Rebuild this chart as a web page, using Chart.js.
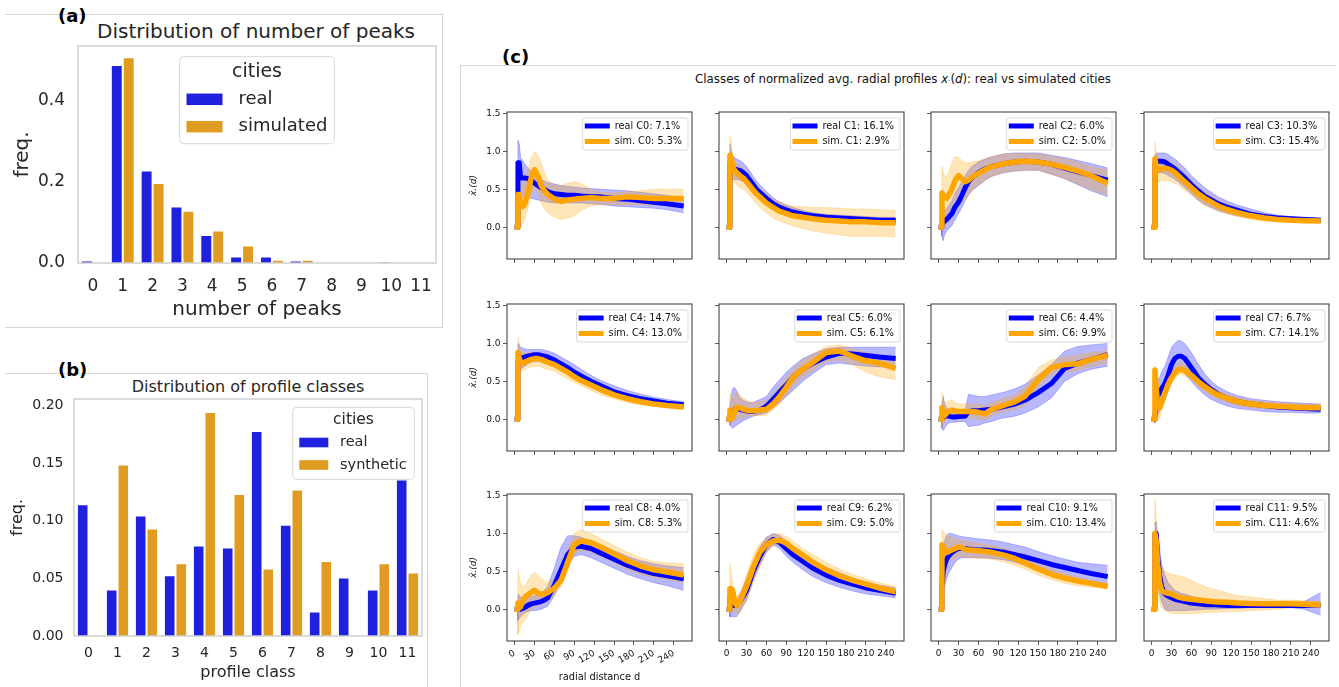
<!DOCTYPE html>
<html><head><meta charset="utf-8">
<script src="https://cdn.jsdelivr.net/npm/chart.js@4.4.0/dist/chart.umd.min.js"></script>
<style>
body{margin:0;width:1339px;height:687px;background:#fff;position:relative;overflow:hidden;font-family:'DejaVu Sans',sans-serif;}
.abs{position:absolute;}
.lbl{position:absolute;font-weight:bold;font-size:18px;line-height:18px;color:#000;}
.ttl{position:absolute;text-align:center;white-space:nowrap;}
canvas{display:block;}
</style></head><body>
<div class="abs" style="left:5px;top:14px;width:437px;height:312px;border:1px solid #d6d6d6;border-left:none;"></div>
<div class="abs" style="left:5px;top:373px;width:422px;height:320px;border-top:1px solid #d6d6d6;border-right:1px solid #d6d6d6;"></div>
<div class="abs" style="left:460px;top:65px;width:875px;height:630px;border-top:1px solid #d6d6d6;border-left:1px solid #d6d6d6;"></div>
<div class="lbl" style="left:58px;top:7px;">(a)</div>
<div class="lbl" style="left:58px;top:361px;">(b)</div>
<div class="lbl" style="left:502px;top:48px;">(c)</div>
<div class="ttl" style="left:56px;top:21px;width:400px;font-size:20px;line-height:20px;color:#262626;">Distribution of number of peaks</div>
<div class="ttl" style="left:48px;top:379px;width:400px;font-size:16px;line-height:16px;color:#262626;">Distribution of profile classes</div>
<div class="ttl" style="left:553px;top:72px;width:700px;font-size:11.8px;line-height:14px;color:#111;">Classes of normalized avg. radial profiles <i>x</i><span style="font-size:7px;">·</span>(<i>d</i>): real vs simulated cities</div>
<div id="root"></div>
<script>
// ---------- panel (a): number of peaks ----------
const peakCats = ['0','1','2','3','4','5','6','7','8','9','10','11'];
const peaksReal = [0.006,0.488,0.228,0.139,0.069,0.016,0.016,0.006,0,0,0.003,0];
const peaksSim  = [0,0.507,0.197,0.129,0.080,0.043,0.008,0.008,0,0,0,0];
const peakYTicks = [0,0.2,0.4];
// ---------- panel (b): profile classes ----------
const classCats = ['0','1','2','3','4','5','6','7','8','9','10','11'];
const classReal = [0.1145,0.0403,0.1046,0.0528,0.0786,0.0768,0.178,0.0965,0.0212,0.0507,0.0403,0.136];
const classSyn  = [0,0.149,0.0933,0.0632,0.1945,0.1232,0.0586,0.1272,0.0652,0,0.0632,0.0551];
const classYTicks = [0,0.05,0.10,0.15,0.20];
// ---------- panel (c): radial profiles ----------
const radialD = [0,4,5,7,9,12,15,20,25,30,35,40,45,50,60,70,80,90,100,115,130,150,170,190,210,230,255];
const profXTicks = [0,30,60,90,120,150,180,210,240];
const profYTicks = [0,0.5,1.0,1.5];
const realPct = ['7.1','16.1','6.0','10.3','14.7','6.0','4.4','6.7','4.0','6.2','9.1','9.5'];
const simPct  = ['5.3','2.9','5.0','15.4','13.0','6.1','9.9','14.1','5.3','5.0','13.4','4.6'];

const realC0   = [0,0,0.85,0.85,0.65,0.65,0.65,0.64,0.62,0.58,0.55,0.52,0.5,0.47,0.44,0.43,0.42,0.42,0.41,0.40,0.40,0.38,0.37,0.35,0.33,0.31,0.28];
const realC0Lo = [0,0,0.45,0.45,0.42,0.4,0.4,0.4,0.38,0.37,0.36,0.35,0.34,0.33,0.32,0.32,0.32,0.32,0.32,0.31,0.30,0.28,0.27,0.26,0.25,0.23,0.19];
const realC0Hi = [0,0,1.15,1.1,0.92,0.88,0.84,0.78,0.74,0.7,0.66,0.63,0.61,0.59,0.57,0.55,0.54,0.53,0.52,0.51,0.5,0.49,0.48,0.46,0.44,0.42,0.38];
const simC0    = [0,0,0.43,0.43,0.28,0.27,0.3,0.45,0.65,0.76,0.68,0.55,0.48,0.43,0.37,0.34,0.36,0.37,0.38,0.39,0.38,0.38,0.4,0.39,0.38,0.38,0.38];
const simC0Lo  = [0,0,0.1,0.05,0.0,0.05,0.1,0.25,0.42,0.55,0.45,0.32,0.24,0.19,0.13,0.1,0.12,0.15,0.22,0.28,0.3,0.3,0.3,0.3,0.3,0.29,0.27];
const simC0Hi  = [0,0,0.7,0.7,0.6,0.55,0.6,0.75,0.92,1.0,0.95,0.85,0.72,0.62,0.56,0.55,0.58,0.6,0.58,0.5,0.46,0.45,0.47,0.48,0.5,0.5,0.5];

const realC1   = [0,0,0.85,0.8,0.78,0.77,0.76,0.75,0.72,0.68,0.62,0.56,0.5,0.46,0.38,0.31,0.26,0.23,0.2,0.17,0.15,0.13,0.12,0.11,0.1,0.09,0.09];
const realC1Lo = [0,0,0.55,0.6,0.62,0.63,0.63,0.62,0.6,0.56,0.5,0.45,0.4,0.36,0.29,0.23,0.19,0.16,0.14,0.12,0.1,0.08,0.07,0.06,0.06,0.05,0.05];
const realC1Hi = [0,0,1.1,1.0,0.95,0.92,0.9,0.88,0.85,0.8,0.74,0.67,0.61,0.56,0.47,0.39,0.33,0.29,0.26,0.22,0.19,0.17,0.16,0.15,0.14,0.13,0.13];
const simC1    = [0,0,0.95,0.9,0.8,0.75,0.72,0.68,0.65,0.6,0.55,0.49,0.44,0.4,0.32,0.26,0.21,0.18,0.15,0.13,0.11,0.09,0.08,0.07,0.07,0.06,0.06];
const simC1Lo  = [0,0,0.7,0.7,0.65,0.6,0.56,0.52,0.5,0.46,0.41,0.36,0.31,0.26,0.19,0.12,0.08,0.05,0.02,-0.02,-0.05,-0.08,-0.1,-0.12,-0.12,-0.12,-0.13];
const simC1Hi  = [0,0,1.2,1.1,0.95,0.88,0.84,0.8,0.77,0.72,0.66,0.6,0.55,0.5,0.43,0.37,0.33,0.3,0.28,0.27,0.26,0.26,0.25,0.24,0.24,0.23,0.22];

const realC2   = [0,0,0.03,0.06,0.08,0.1,0.13,0.18,0.27,0.33,0.42,0.52,0.6,0.65,0.72,0.77,0.8,0.82,0.84,0.86,0.87,0.86,0.83,0.78,0.73,0.68,0.62];
const realC2Lo = [0,0,-0.12,-0.18,-0.1,-0.05,-0.02,0.02,0.1,0.18,0.26,0.35,0.42,0.48,0.55,0.62,0.67,0.7,0.72,0.74,0.75,0.75,0.7,0.64,0.56,0.48,0.4];
const realC2Hi = [0,0,0.15,0.2,0.22,0.25,0.28,0.35,0.45,0.52,0.6,0.68,0.75,0.8,0.86,0.9,0.93,0.95,0.97,0.98,0.98,0.98,0.95,0.92,0.88,0.84,0.78];
const simC2    = [0,0,0.45,0.42,0.4,0.38,0.42,0.5,0.62,0.68,0.64,0.6,0.62,0.66,0.71,0.76,0.8,0.82,0.84,0.86,0.87,0.86,0.83,0.79,0.74,0.68,0.58];
const simC2Lo  = [0,0,0.1,0.12,0.12,0.12,0.15,0.2,0.28,0.32,0.34,0.36,0.42,0.48,0.55,0.62,0.67,0.7,0.73,0.74,0.75,0.75,0.7,0.64,0.57,0.5,0.42];
const simC2Hi  = [0,0,0.8,0.72,0.68,0.66,0.72,0.85,0.93,0.92,0.88,0.85,0.85,0.86,0.88,0.9,0.93,0.95,0.97,0.97,0.97,0.97,0.94,0.9,0.86,0.8,0.75];

const realC3   = [0,0,0.85,0.86,0.87,0.87,0.87,0.86,0.83,0.8,0.77,0.73,0.69,0.65,0.56,0.48,0.41,0.36,0.31,0.26,0.22,0.17,0.14,0.12,0.11,0.1,0.09];
const realC3Lo = [0,0,0.65,0.7,0.72,0.72,0.72,0.71,0.68,0.66,0.63,0.6,0.56,0.52,0.44,0.36,0.3,0.26,0.22,0.18,0.15,0.12,0.1,0.08,0.07,0.06,0.06];
const realC3Hi = [0,0,0.95,0.97,0.98,0.98,0.98,0.98,0.96,0.93,0.9,0.86,0.82,0.78,0.68,0.6,0.52,0.46,0.4,0.34,0.29,0.24,0.19,0.16,0.14,0.13,0.12];
const simC3    = [0,0,0.9,0.8,0.77,0.76,0.77,0.78,0.77,0.75,0.72,0.68,0.64,0.6,0.52,0.44,0.38,0.33,0.28,0.23,0.19,0.15,0.12,0.1,0.09,0.085,0.08];
const simC3Lo  = [0,0,0.6,0.6,0.6,0.6,0.61,0.62,0.61,0.6,0.58,0.56,0.52,0.49,0.42,0.35,0.29,0.25,0.21,0.17,0.14,0.1,0.08,0.07,0.065,0.06,0.06];
const simC3Hi  = [0,0,1.12,1.0,0.92,0.9,0.9,0.9,0.88,0.86,0.83,0.8,0.75,0.71,0.62,0.54,0.47,0.42,0.36,0.3,0.25,0.2,0.16,0.14,0.12,0.11,0.1];

const realC4   = [0,0,0.75,0.78,0.8,0.81,0.82,0.83,0.84,0.85,0.85,0.84,0.83,0.82,0.78,0.73,0.68,0.62,0.57,0.5,0.44,0.36,0.31,0.27,0.24,0.21,0.19];
const realC4Lo = [0,0,0.55,0.62,0.66,0.68,0.7,0.73,0.75,0.76,0.76,0.75,0.74,0.73,0.69,0.64,0.59,0.54,0.49,0.42,0.36,0.3,0.25,0.22,0.19,0.17,0.15];
const realC4Hi = [0,0,1.0,0.98,0.95,0.94,0.93,0.92,0.92,0.92,0.92,0.92,0.91,0.9,0.87,0.82,0.77,0.72,0.66,0.58,0.51,0.44,0.38,0.33,0.29,0.26,0.23];
const simC4    = [0,0,0.88,0.8,0.76,0.74,0.75,0.77,0.79,0.8,0.8,0.79,0.77,0.75,0.72,0.67,0.62,0.56,0.51,0.45,0.39,0.32,0.27,0.23,0.2,0.18,0.16];
const simC4Lo  = [0,0,0.6,0.62,0.63,0.64,0.65,0.68,0.69,0.7,0.7,0.69,0.67,0.66,0.63,0.58,0.53,0.48,0.44,0.38,0.32,0.27,0.22,0.19,0.17,0.15,0.13];
const simC4Hi  = [0,0,1.08,1.0,0.9,0.87,0.87,0.87,0.88,0.88,0.88,0.87,0.85,0.83,0.8,0.75,0.7,0.64,0.58,0.51,0.45,0.37,0.31,0.27,0.24,0.21,0.19];

const realC5   = [0,0,0.05,0.07,0.08,0.12,0.15,0.13,0.12,0.11,0.1,0.1,0.11,0.12,0.17,0.26,0.36,0.45,0.55,0.66,0.74,0.82,0.87,0.86,0.84,0.82,0.8];
const realC5Lo = [0,0,-0.08,-0.1,-0.12,-0.1,-0.08,-0.05,-0.02,0.0,0.02,0.04,0.05,0.06,0.08,0.15,0.22,0.3,0.38,0.5,0.6,0.72,0.74,0.72,0.7,0.69,0.68];
const realC5Hi = [0,0,0.2,0.3,0.4,0.42,0.38,0.28,0.25,0.23,0.22,0.22,0.24,0.26,0.3,0.42,0.52,0.62,0.7,0.8,0.86,0.93,0.95,0.95,0.95,0.95,0.95];
const simC5    = [0,0,0.12,0.08,0.02,0.1,0.15,0.15,0.13,0.12,0.11,0.11,0.11,0.12,0.13,0.2,0.3,0.42,0.55,0.66,0.75,0.88,0.9,0.83,0.77,0.74,0.67];
const simC5Lo  = [0,0,-0.05,-0.05,-0.05,-0.02,0.0,0.0,0.02,0.04,0.05,0.05,0.05,0.05,0.05,0.12,0.2,0.32,0.42,0.55,0.64,0.76,0.78,0.72,0.62,0.56,0.52];
const simC5Hi  = [0,0,0.35,0.3,0.25,0.32,0.35,0.32,0.28,0.25,0.23,0.22,0.22,0.23,0.25,0.33,0.44,0.55,0.66,0.78,0.86,0.96,0.98,0.93,0.88,0.84,0.8];

const realC6   = [0,0,0.0,0.02,0.04,0.05,0.04,0.03,0.03,0.035,0.04,0.04,0.1,0.11,0.11,0.12,0.13,0.15,0.17,0.2,0.25,0.35,0.47,0.67,0.74,0.79,0.85];
const realC6Lo = [0,0,-0.12,-0.15,-0.12,-0.08,-0.05,-0.04,-0.04,-0.03,-0.03,-0.03,-0.1,-0.09,-0.08,-0.05,-0.03,0.0,0.02,0.04,0.08,0.16,0.28,0.5,0.6,0.66,0.7];
const realC6Hi = [0,0,0.2,0.3,0.2,0.15,0.13,0.12,0.12,0.12,0.12,0.12,0.33,0.32,0.3,0.3,0.32,0.34,0.36,0.4,0.46,0.58,0.72,0.9,0.96,0.98,1.0];
const simC6    = [0,0,0.15,0.08,0.05,0.08,0.1,0.12,0.11,0.1,0.1,0.1,0.1,0.1,0.09,0.07,0.13,0.16,0.19,0.23,0.3,0.52,0.68,0.72,0.73,0.79,0.84];
const simC6Lo  = [0,0,-0.1,-0.08,-0.04,0.0,0.02,0.03,0.03,0.02,0.02,0.02,0.02,0.01,0.0,-0.01,0.04,0.08,0.1,0.13,0.18,0.42,0.58,0.62,0.64,0.7,0.74];
const simC6Hi  = [0,0,0.35,0.3,0.22,0.22,0.24,0.25,0.22,0.2,0.2,0.2,0.2,0.2,0.19,0.18,0.22,0.25,0.28,0.32,0.42,0.68,0.78,0.82,0.84,0.88,0.9];

const realC7   = [0,0,0.05,0.2,0.3,0.35,0.4,0.47,0.58,0.72,0.8,0.83,0.83,0.8,0.68,0.55,0.46,0.39,0.33,0.27,0.23,0.2,0.18,0.16,0.15,0.14,0.13];
const realC7Lo = [0,0,-0.05,0.0,0.05,0.1,0.15,0.25,0.38,0.5,0.58,0.64,0.64,0.6,0.5,0.4,0.32,0.26,0.22,0.17,0.14,0.12,0.1,0.09,0.09,0.08,0.08];
const realC7Hi = [0,0,0.3,0.4,0.5,0.55,0.62,0.7,0.82,0.95,1.0,1.04,1.03,1.0,0.88,0.73,0.6,0.5,0.43,0.36,0.31,0.27,0.25,0.23,0.22,0.21,0.2];
const simC7    = [0,0,0.65,0.4,0.2,0.15,0.22,0.35,0.46,0.55,0.61,0.65,0.66,0.64,0.58,0.5,0.43,0.37,0.32,0.27,0.23,0.2,0.18,0.17,0.16,0.15,0.15];
const simC7Lo  = [0,0,0.5,0.25,0.05,0.0,0.1,0.25,0.36,0.46,0.53,0.58,0.59,0.57,0.52,0.44,0.37,0.31,0.27,0.22,0.18,0.15,0.14,0.13,0.13,0.12,0.12];
const simC7Hi  = [0,0,0.7,0.55,0.35,0.3,0.35,0.45,0.56,0.64,0.7,0.74,0.75,0.72,0.66,0.57,0.5,0.44,0.38,0.33,0.28,0.25,0.23,0.22,0.21,0.2,0.2];

const realC8   = [0,0,0.0,0.0,0.0,0.01,0.02,0.05,0.07,0.08,0.09,0.1,0.12,0.15,0.32,0.52,0.72,0.82,0.83,0.8,0.74,0.66,0.58,0.52,0.47,0.44,0.4];
const realC8Lo = [0,0,-0.15,-0.12,-0.1,-0.07,-0.05,-0.03,-0.02,-0.02,-0.01,0.0,0.02,0.04,0.18,0.38,0.58,0.7,0.72,0.68,0.62,0.54,0.46,0.4,0.35,0.31,0.25];
const realC8Hi = [0,0,0.2,0.18,0.16,0.15,0.15,0.15,0.17,0.18,0.2,0.22,0.25,0.3,0.55,0.82,0.97,0.97,0.95,0.9,0.85,0.77,0.7,0.64,0.6,0.57,0.55];
const simC8    = [0,0,0.08,0.05,0.03,0.1,0.15,0.19,0.22,0.25,0.21,0.2,0.2,0.22,0.28,0.38,0.62,0.85,0.9,0.88,0.82,0.73,0.64,0.57,0.52,0.49,0.45];
const simC8Lo  = [0,0,-0.33,-0.28,-0.22,-0.18,-0.15,-0.08,0.0,0.03,0.05,0.06,0.08,0.1,0.18,0.3,0.5,0.72,0.78,0.75,0.7,0.62,0.52,0.46,0.42,0.39,0.35];
const simC8Hi  = [0,0,0.52,0.42,0.35,0.3,0.3,0.38,0.45,0.48,0.45,0.4,0.38,0.35,0.4,0.52,0.8,1.0,1.05,1.0,0.93,0.84,0.75,0.68,0.63,0.61,0.6];

const realC9   = [0,0,0.15,0.1,0.05,0.05,0.05,0.1,0.17,0.25,0.37,0.5,0.6,0.7,0.85,0.92,0.88,0.8,0.72,0.63,0.54,0.45,0.38,0.33,0.28,0.25,0.21];
const realC9Lo = [0,0,-0.1,-0.1,-0.1,-0.1,-0.1,-0.03,0.05,0.12,0.25,0.38,0.48,0.58,0.75,0.85,0.8,0.7,0.62,0.52,0.43,0.35,0.29,0.24,0.2,0.18,0.15];
const realC9Hi = [0,0,0.3,0.25,0.15,0.12,0.1,0.2,0.3,0.4,0.52,0.63,0.72,0.82,0.95,1.0,0.97,0.9,0.82,0.73,0.64,0.55,0.48,0.41,0.36,0.32,0.28];
const simC9    = [0,0,0.27,0.27,0.25,0.1,0.05,0.1,0.2,0.3,0.42,0.55,0.65,0.75,0.85,0.9,0.91,0.87,0.8,0.71,0.62,0.52,0.44,0.38,0.33,0.28,0.23];
const simC9Lo  = [0,0,0.0,0.0,0.0,-0.05,-0.05,-0.05,0.03,0.1,0.22,0.35,0.45,0.55,0.75,0.83,0.85,0.8,0.72,0.62,0.54,0.45,0.38,0.31,0.27,0.22,0.18];
const simC9Hi  = [0,0,0.6,0.45,0.35,0.2,0.18,0.2,0.32,0.45,0.58,0.7,0.8,0.87,0.95,0.99,1.0,0.96,0.9,0.8,0.72,0.62,0.53,0.46,0.4,0.35,0.3];

const realC10   = [0,0,0.3,0.5,0.58,0.66,0.7,0.75,0.78,0.8,0.8,0.8,0.79,0.79,0.78,0.78,0.77,0.76,0.75,0.72,0.69,0.64,0.59,0.55,0.51,0.47,0.43];
const realC10Lo = [0,0,0.15,0.2,0.3,0.4,0.47,0.55,0.62,0.66,0.68,0.68,0.68,0.68,0.68,0.68,0.67,0.66,0.65,0.62,0.58,0.52,0.46,0.42,0.38,0.35,0.32];
const realC10Hi = [0,0,0.6,0.8,0.9,0.97,1.0,1.0,0.98,0.97,0.96,0.95,0.95,0.94,0.93,0.92,0.91,0.9,0.88,0.85,0.82,0.76,0.71,0.66,0.62,0.6,0.58];
const simC10    = [0,0,0.85,0.83,0.78,0.75,0.76,0.78,0.8,0.82,0.81,0.79,0.78,0.78,0.77,0.76,0.75,0.73,0.71,0.67,0.61,0.53,0.46,0.41,0.37,0.34,0.3];
const simC10Lo  = [0,0,0.7,0.65,0.6,0.6,0.63,0.66,0.68,0.7,0.7,0.69,0.68,0.68,0.67,0.67,0.66,0.64,0.62,0.58,0.53,0.45,0.39,0.34,0.31,0.29,0.27];
const simC10Hi  = [0,0,1.05,1.02,1.0,0.98,0.96,0.95,0.93,0.92,0.91,0.9,0.89,0.88,0.87,0.86,0.84,0.82,0.8,0.76,0.7,0.61,0.53,0.47,0.42,0.38,0.34];

const realC11   = [0,0,1.0,1.0,0.7,0.45,0.3,0.2,0.17,0.15,0.13,0.12,0.11,0.1,0.08,0.07,0.06,0.06,0.055,0.05,0.05,0.05,0.05,0.05,0.05,0.05,0.06];
const realC11Lo = [0,0,0.5,0.5,0.35,0.2,0.1,0.0,-0.02,-0.02,-0.02,-0.02,-0.02,-0.02,-0.01,-0.01,0.0,0.0,0.0,0.01,0.01,0.02,0.02,0.02,0.02,0.0,-0.08];
const realC11Hi = [0,0,1.15,1.15,1.0,0.8,0.6,0.45,0.35,0.3,0.25,0.23,0.21,0.2,0.17,0.15,0.13,0.12,0.12,0.11,0.1,0.09,0.08,0.08,0.08,0.1,0.22];
const simC11    = [0,0,1.0,0.9,0.6,0.35,0.25,0.22,0.21,0.2,0.18,0.16,0.15,0.14,0.13,0.12,0.11,0.1,0.095,0.09,0.08,0.075,0.07,0.07,0.07,0.065,0.06];
const simC11Lo  = [0,0,0.7,0.5,0.3,0.1,0.02,-0.02,-0.04,-0.05,-0.06,-0.06,-0.06,-0.06,-0.06,-0.05,-0.05,-0.04,-0.04,-0.03,-0.03,-0.02,-0.01,0.0,0.02,0.02,0.03];
const simC11Hi  = [0,0,1.45,1.2,0.9,0.7,0.55,0.5,0.48,0.46,0.45,0.44,0.43,0.42,0.38,0.34,0.3,0.27,0.25,0.21,0.18,0.16,0.14,0.12,0.12,0.11,0.1];

const realMeans = [realC0,realC1,realC2,realC3,realC4,realC5,realC6,realC7,realC8,realC9,realC10,realC11];
const realLows  = [realC0Lo,realC1Lo,realC2Lo,realC3Lo,realC4Lo,realC5Lo,realC6Lo,realC7Lo,realC8Lo,realC9Lo,realC10Lo,realC11Lo];
const realHighs = [realC0Hi,realC1Hi,realC2Hi,realC3Hi,realC4Hi,realC5Hi,realC6Hi,realC7Hi,realC8Hi,realC9Hi,realC10Hi,realC11Hi];
const simMeans  = [simC0,simC1,simC2,simC3,simC4,simC5,simC6,simC7,simC8,simC9,simC10,simC11];
const simLows   = [simC0Lo,simC1Lo,simC2Lo,simC3Lo,simC4Lo,simC5Lo,simC6Lo,simC7Lo,simC8Lo,simC9Lo,simC10Lo,simC11Lo];
const simHighs  = [simC0Hi,simC1Hi,simC2Hi,simC3Hi,simC4Hi,simC5Hi,simC6Hi,simC7Hi,simC8Hi,simC9Hi,simC10Hi,simC11Hi];

// ---------- rendering ----------
Chart.defaults.font.family = "'DejaVu Sans', sans-serif";
Chart.defaults.color = '#262626';
Chart.defaults.animation = false;

const BLUE = '#0000ff', ORANGE = '#ffa500';
const BAR_BLUE = '#2020df', BAR_ORANGE = '#df9c20';

function makeCanvas(left, top, w, h) {
  const d = document.createElement('div');
  d.className = 'abs';
  d.style.left = left + 'px'; d.style.top = top + 'px';
  d.style.width = w + 'px'; d.style.height = h + 'px';
  const c = document.createElement('canvas');
  c.width = w; c.height = h;
  d.appendChild(c);
  document.getElementById('root').appendChild(d);
  return c;
}
function noPad(s) { s.paddingTop = 0; s.paddingBottom = 0; s.paddingLeft = 0; s.paddingRight = 0; }

const framePlugin = {
  id: 'frame',
  afterDatasetsDraw(chart, args, opts) {
    const {ctx, chartArea: a} = chart;
    ctx.save();
    ctx.strokeStyle = opts.color; ctx.lineWidth = opts.width;
    ctx.strokeRect(a.left, a.top, a.right - a.left, a.bottom - a.top);
    ctx.restore();
  }
};

function roundRect(ctx, x, y, w, h, r) {
  ctx.beginPath();
  ctx.moveTo(x + r, y); ctx.lineTo(x + w - r, y); ctx.arcTo(x + w, y, x + w, y + r, r);
  ctx.lineTo(x + w, y + h - r); ctx.arcTo(x + w, y + h, x + w - r, y + h, r);
  ctx.lineTo(x + r, y + h); ctx.arcTo(x, y + h, x, y + h - r, r);
  ctx.lineTo(x, y + r); ctx.arcTo(x, y, x + r, y, r);
  ctx.closePath();
}

// legend for bar panels
const barLegend = {
  id: 'barLegend',
  afterDraw(chart, args, o) {
    const {ctx, chartArea: a} = chart;
    const x = o.anchor === 'center' ? (a.left + a.right) / 2 - o.w / 2 : a.right - o.mr - o.w;
    const y = a.top + o.mt;
    ctx.save();
    roundRect(ctx, x, y, o.w, o.h, 4);
    ctx.fillStyle = 'rgba(255,255,255,0.85)'; ctx.fill();
    ctx.strokeStyle = '#d9d9d9'; ctx.lineWidth = 1; ctx.stroke();
    ctx.fillStyle = '#262626';
    ctx.textBaseline = 'middle'; ctx.textAlign = 'center';
    ctx.font = o.titleSize + "px 'DejaVu Sans'";
    ctx.fillText(o.title, x + o.w / 2, y + o.titleY);
    ctx.textAlign = 'left';
    ctx.font = o.size + "px 'DejaVu Sans'";
    chart.data.datasets.forEach((ds, i) => {
      const cy = y + o.rowY[i];
      ctx.fillStyle = ds.backgroundColor;
      ctx.fillRect(x + o.px, cy - o.ph / 2, o.pw, o.ph);
      ctx.fillStyle = '#262626';
      ctx.fillText(ds.label, x + o.tx, cy);
    });
    ctx.restore();
  }
};

function barChart(canvas, cats, real, sim, simLabel, yMax, yTicks, dec, cfg) {
  return new Chart(canvas, {
    type: 'bar',
    data: { labels: cats, datasets: [
      {label: 'real', data: real, backgroundColor: BAR_BLUE, borderColor: 'rgba(255,255,255,0.75)', borderWidth: 1, categoryPercentage: 0.8, barPercentage: 1.0},
      {label: simLabel, data: sim, backgroundColor: BAR_ORANGE, borderColor: 'rgba(255,255,255,0.75)', borderWidth: 1, categoryPercentage: 0.8, barPercentage: 1.0}
    ]},
    options: {
      responsive: false, animation: false,
      layout: {padding: cfg.pad},
      plugins: {legend: {display: false}, tooltip: {enabled: false},
        frame: {color: '#d0d0d0', width: 1.5}, barLegend: cfg.legend},
      scales: {
        x: {grid: {display: false, drawTicks: false}, border: {display: false},
            ticks: {font: {size: cfg.tick}, padding: cfg.xpad, color: '#262626', maxRotation: 0, autoSkip: false},
            title: {display: true, text: cfg.xTitle, font: {size: cfg.axis}, color: '#262626', padding: {top: 0, bottom: cfg.xtb}},
            afterFit: s => { s.height = cfg.xh; noPad(s); }},
        y: {min: 0, max: yMax, grid: {display: false, drawTicks: false}, border: {display: false},
            afterBuildTicks: s => { s.ticks = yTicks.map(v => ({value: v})); },
            ticks: {font: {size: cfg.tick}, padding: cfg.ypad, color: '#262626', callback: v => Number(v).toFixed(dec)},
            title: {display: true, text: 'freq.', font: {size: cfg.axis}, color: '#262626', padding: {top: cfg.ytp, bottom: 0}},
            afterFit: s => { s.width = cfg.yw; noPad(s); }}
      }
    },
    plugins: [framePlugin, barLegend]
  });
}

// panel (a)
barChart(makeCanvas(0, 40, 443, 282), peakCats, peaksReal, peaksSim, 'simulated', 0.535, peakYTicks, 1, {
  pad: {top: 6, right: 7, left: 0, bottom: 0}, yw: 78, xh: 59, tick: 17, axis: 20, xpad: 13, ypad: 13, xtb: 0, ytp: 11,
  xTitle: 'number of peaks',
  legend: {anchor: 'center', w: 155, h: 87, mt: 10.7, title: 'cities', titleSize: 19, titleY: 15, size: 18,
           rowY: [42.6, 70], px: 7, pw: 36, ph: 11.5, tx: 59}
});
// panel (b)
barChart(makeCanvas(0, 385, 428, 302), classCats, classReal, classSyn, 'synthetic', 0.2058, classYTicks, 2, {
  pad: {top: 14, right: 6, left: 0, bottom: 0}, yw: 74, xh: 51, tick: 14, axis: 16, xpad: 8.5, ypad: 10.5, xtb: 4.5, ytp: 8.5,
  xTitle: 'profile class',
  legend: {anchor: 'right', w: 121.6, h: 72, mr: 7.7, mt: 8.3, title: 'cities', titleSize: 15.5, titleY: 12.7, size: 14.5,
           rowY: [35.2, 57.7], px: 6.6, pw: 29, ph: 9.6, tx: 47.3}
});

// legend inside each profile subplot
const subLegend = {
  id: 'subLegend',
  afterDraw(chart, args, o) {
    const {ctx, chartArea: a} = chart;
    ctx.save();
    ctx.font = "9.7px 'DejaVu Sans'";
    const tw = Math.max(ctx.measureText(o.t1).width, ctx.measureText(o.t2).width);
    const w = 32 + tw + 6, h = 32;
    const x = a.right - 4 - w, y = a.top + 6;
    roundRect(ctx, x, y, w, h, 2);
    ctx.fillStyle = 'rgba(255,255,255,0.8)'; ctx.fill();
    ctx.strokeStyle = '#d0d0d0'; ctx.lineWidth = 0.8; ctx.stroke();
    ctx.lineWidth = 5; ctx.lineCap = 'butt';
    ctx.strokeStyle = BLUE; ctx.beginPath(); ctx.moveTo(x + 2, y + 8); ctx.lineTo(x + 27, y + 8); ctx.stroke();
    ctx.strokeStyle = ORANGE; ctx.beginPath(); ctx.moveTo(x + 2, y + 23.5); ctx.lineTo(x + 27, y + 23.5); ctx.stroke();
    ctx.fillStyle = '#111'; ctx.textBaseline = 'middle'; ctx.textAlign = 'left';
    ctx.fillText(o.t1, x + 32, y + 8);
    ctx.fillText(o.t2, x + 32, y + 23.5);
    ctx.restore();
  }
};

const colLeft = [507, 719, 931, 1144];
const rowTop = [112, 304, 494];
const PW = 185, PH = 147, YW = 46;
const pts = arr => radialD.map((x, i) => ({x: x, y: arr[i]}));

for (let k = 0; k < 12; k++) {
  const r = Math.floor(k / 4), c = k % 4;
  const bottom = r === 2, left = c === 0;
  const xh = bottom ? 46 : 8;
  const canvas = makeCanvas(colLeft[c] - YW, rowTop[r] - 8, PW + YW + 6, PH + 8 + xh);
  new Chart(canvas, {
    type: 'line',
    data: { datasets: [
      {data: pts(simMeans[k]), borderColor: ORANGE, borderWidth: 5.5, pointRadius: 0, fill: false, borderJoinStyle: 'round', borderCapStyle: 'butt'},
      {data: pts(realMeans[k]), borderColor: BLUE, borderWidth: 5, pointRadius: 0, fill: false, borderJoinStyle: 'round', borderCapStyle: 'butt'},
      {data: pts(simHighs[k]), borderColor: 'rgba(255,165,0,0.3)', borderWidth: 0.8, pointRadius: 0, fill: '+1', backgroundColor: 'rgba(255,165,0,0.28)'},
      {data: pts(simLows[k]), borderColor: 'rgba(255,165,0,0.3)', borderWidth: 0.8, pointRadius: 0, fill: false},
      {data: pts(realHighs[k]), borderColor: 'rgba(0,0,255,0.3)', borderWidth: 0.8, pointRadius: 0, fill: '+1', backgroundColor: 'rgba(0,0,255,0.28)'},
      {data: pts(realLows[k]), borderColor: 'rgba(0,0,255,0.3)', borderWidth: 0.8, pointRadius: 0, fill: false}
    ]},
    options: {
      responsive: false, animation: false,
      layout: {padding: {top: 8, right: 6, left: 0, bottom: 0}},
      plugins: {legend: {display: false}, tooltip: {enabled: false},
        frame: {color: '#333', width: 1},
        subLegend: {t1: 'real C' + k + ': ' + realPct[k] + '%', t2: 'sim. C' + k + ': ' + simPct[k] + '%'}},
      scales: {
        x: {type: 'linear', min: -11.5, max: 267.5,
            grid: {display: true, drawOnChartArea: false, drawTicks: true, tickLength: 4, color: '#333', lineWidth: 0.8},
            border: {display: false},
            afterBuildTicks: s => { s.ticks = profXTicks.map(v => ({value: v})); },
            ticks: {display: bottom, autoSkip: false, font: {size: 9}, color: '#111', padding: 3,
                    minRotation: k === 8 ? 30 : 0, maxRotation: k === 8 ? 30 : 0},
            title: {display: k === 8, text: 'radial distance d', font: {size: 9.8}, color: '#111', padding: {top: 0, bottom: 4}},
            afterFit: s => { s.height = xh; noPad(s); }},
        y: {min: -0.42, max: 1.52,
            grid: {display: true, drawOnChartArea: false, drawTicks: true, tickLength: 4, color: '#333', lineWidth: 0.8},
            border: {display: false},
            afterBuildTicks: s => { s.ticks = profYTicks.map(v => ({value: v})); },
            ticks: {font: {size: 9}, color: '#111', padding: 2.5, callback: v => left ? Number(v).toFixed(1) : ''},
            title: {display: left, text: 'x\u0302.(d)', font: {size: 9, style: 'italic'}, color: '#111', padding: {top: 7, bottom: 0}},
            afterFit: s => { s.width = YW; noPad(s); }}
      }
    },
    plugins: [framePlugin, subLegend]
  });
}
</script>
</body></html>
